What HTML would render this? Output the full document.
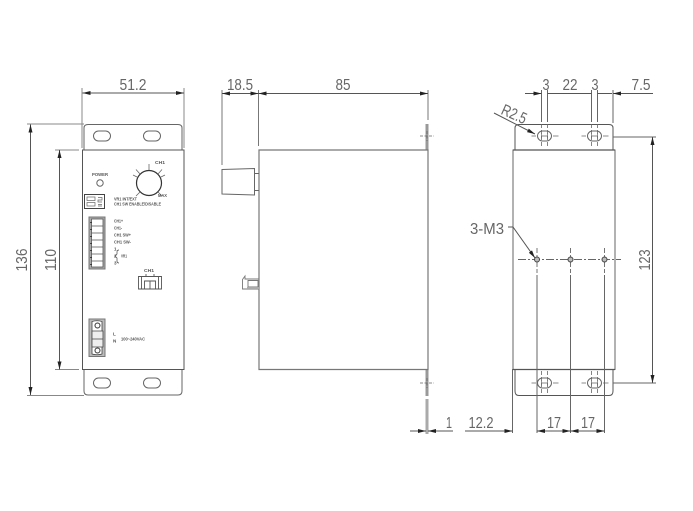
<!DOCTYPE html>
<html><head><meta charset="utf-8"><style>
html,body{margin:0;padding:0;background:#fff}
svg{display:block;filter:blur(.3px)}
text{font-family:"Liberation Sans",sans-serif;fill:#666}
.d{font-size:16px;text-anchor:middle}
.s{font-size:4.6px;fill:#555;font-weight:bold}
</style></head><body>
<svg width="693" height="511" viewBox="0 0 693 511" xmlns="http://www.w3.org/2000/svg">
<defs>
<marker id="a" viewBox="0 0 8 4" refX="8" refY="2" markerWidth="8" markerHeight="4" markerUnits="userSpaceOnUse" orient="auto-start-reverse"><path d="M0 0L8 2L0 4Z" fill="#222"/></marker>
<g id="slot"><rect x="-8.5" y="-5" width="17" height="10" rx="5" ry="5" fill="none"/></g>
<g id="rslot" fill="none">
<rect x="-7" y="-5" width="14" height="10" rx="5" ry="5"/>
<path d="M-3 0H3M-3 -2.500V2.500M3 -2.500V2.500" stroke-width=".7"/>
<path d="M-13 0H-8.500M8.500 0H14" stroke-width=".8"/>
<path d="M-3 -12V12M3 -12V12" stroke-dasharray="4 2" stroke-width=".8"/>
</g>
</defs>
<rect x="425.500" y="124" width="3" height="26" fill="#999"/>
<rect x="425.500" y="370" width="3" height="26" fill="#999"/>
<rect x="425.500" y="399" width="3" height="35" fill="#aaa"/>
<g fill="none" stroke="#666" stroke-width="1">
<!-- FRONT VIEW -->
<path d="M84 150V128Q84 124.500 88 124.500H178Q182 124.500 182 128V150"/>
<path d="M84 369.500V391Q84 395 88 395H178Q182 395 182 391V369.500"/>
<rect x="82.500" y="150" width="101.500" height="219.500" stroke="#555"/>
<use href="#slot" x="102" y="136"/><use href="#slot" x="152" y="136"/>
<use href="#slot" x="102" y="383"/><use href="#slot" x="152" y="383"/>
<path d="M82 88V148M184 88V148M27 124H84M55 150H79M55 369.500H79M27 395.500H84" stroke="#888"/>
<path d="M82.500 93H184" marker-start="url(#a)" marker-end="url(#a)" stroke="#555"/>
<path d="M30.500 124.500V395" marker-start="url(#a)" marker-end="url(#a)" stroke="#555"/>
<path d="M59.500 150V369.500" marker-start="url(#a)" marker-end="url(#a)" stroke="#555"/>
<!-- knob -->
<circle cx="149" cy="183" r="12.500" stroke="#333" stroke-width="1.200"/>
<circle cx="100" cy="183" r="3.200"/>
<path d="M149 170V164M140 174L136 169.500M158 174L162 169.500M140 192L136 196M158 192L162 196M137 177L133 175M161 177L165 175" stroke-width=".8"/>
<!-- dip -->
<rect x="84.500" y="194.500" width="20" height="14" stroke="#444"/>
<rect x="87" y="197" width="8" height="3.500" stroke-width=".7"/><rect x="87" y="202.500" width="8" height="3.500" stroke-width=".7"/>
<path d="M98 197.500H102V200H98V202H102M98 204.500H102M98 206H102" stroke-width=".7"/>
<!-- terminal -->
<rect x="89" y="217" width="16" height="52" fill="#aaa" stroke="#777"/>
<rect x="91.500" y="219" width="11.500" height="48" fill="#fff" stroke="#555" stroke-width=".8"/>
<path d="M91.500 226H103M91.500 233H103M91.500 240H103M91.500 247H103M91.500 254H103M91.500 261H103" stroke="#555" stroke-width=".8"/>
<path d="M91 222V223M91 229V230M91 236V237M91 243V244M91 250V251M91 257V258M91 264V265" stroke="#222" stroke-width="1.500"/>
<path d="M119 250Q117 250 117 252V254L115 256L117 258V261Q117 263 119 263" stroke-width=".7" stroke="#444"/>
<!-- CH1 connector -->
<path d="M138.500 276.500H161.500V289H138.500ZM141.500 276.500V289M158.500 276.500V289M144.500 281H155.500V289H144.500ZM150 281V289M146 274V276.500H154V274" stroke="#555" stroke-width=".9"/>
<!-- power -->
<rect x="89" y="319" width="16" height="37.500" fill="#bbb" stroke="#777"/>
<path d="M92 321.500Q97 320 102 321.500V354Q97 355.500 92 354Z" fill="#fff" stroke="#444" stroke-width=".8"/>
<path d="M92 331H103V347H92ZM92 339H103" stroke-width=".8" stroke="#444" fill="#eee"/>
<circle cx="97.500" cy="325.500" r="2.500" stroke="#333"/><circle cx="97.500" cy="350.500" r="2.500" stroke="#333"/>

<!-- SIDE VIEW -->
<path d="M259 150H428V369.500H259Z" stroke="#777" stroke-width="1.200"/>
<path d="M222 169.500L254.500 168.500V195L222 194Z M254.500 173.500H259M254.500 190.500H259" stroke="#666"/>
<path d="M222 90V165M258.500 90V146M428 90V120" stroke="#777"/>
<path d="M222 93.500H258.500" marker-start="url(#a)" marker-end="url(#a)" stroke="#555"/>
<path d="M258.500 93.500H428" marker-start="url(#a)" marker-end="url(#a)" stroke="#555"/>
<path d="M420 136H434M420 383H434M427 131V141M427 378V388" stroke="#666" stroke-width=".8" stroke-dasharray="3 1.500"/>
<path d="M242.500 279.500L245 276V279H259V289H242.500ZM248 280.500H258V287H248Z" stroke="#777" stroke-width=".9"/>
<path d="M247 288H259" stroke="#aaa" stroke-width="2"/>
<path d="M410 431H426" marker-end="url(#a)" stroke="#555"/>
<path d="M453 431H428" marker-end="url(#a)" stroke="#555"/>

<!-- RIGHT VIEW -->
<rect x="513" y="150" width="102" height="219.500" stroke="#666"/>
<path d="M515 150V128Q515 124.500 519 124.500H609Q613 124.500 613 128V150" stroke="#555"/>
<path d="M515 369.500V391Q515 395.500 519 395.500H609Q613 395.500 613 391V369.500" stroke="#555"/>
<path d="M513 150H615M513 369.500H615" stroke="#555" stroke-width="1.200"/>
<use href="#rslot" x="544.500" y="136"/><use href="#rslot" x="594.500" y="136"/>
<use href="#rslot" x="544.500" y="383"/><use href="#rslot" x="594.500" y="383"/>
<path d="M541.500 90V122M547.500 90V122M591.500 90V122M597.500 90V122M613 90V123" stroke="#666"/>
<path d="M525 93.500H541.500" marker-end="url(#a)" stroke="#555"/>
<path d="M547.500 93.500H591.500M597.500 93.500H612" stroke="#555"/>
<path d="M653 93.500H613" marker-end="url(#a)" stroke="#555"/>
<path d="M494 113L535 134" marker-end="url(#a)" stroke="#555"/>
<path d="M508 227H513L535 258" marker-end="url(#a)" stroke="#555"/>
<path d="M518 259.500H621" stroke="#666" stroke-width=".9" stroke-dasharray="8 2 2 2"/>
<path d="M537 248V273M570.500 248V273M604.500 248V273" stroke="#666" stroke-width=".9" stroke-dasharray="5 2"/>
<circle cx="537" cy="259.500" r="2.500" fill="#bbb" stroke="#444"/><circle cx="570.500" cy="259.500" r="2.500" fill="#bbb" stroke="#444"/><circle cx="604.500" cy="259.500" r="2.500" fill="#bbb" stroke="#444"/>
<path d="M537 275V433M570.500 275V433M604.500 275V433M512.500 369V433" stroke="#666"/>
<path d="M465 431H512.500" marker-end="url(#a)" stroke="#555"/>
<path d="M537 431H570.500" marker-start="url(#a)" marker-end="url(#a)" stroke="#555"/>
<path d="M570.500 431H604.500" marker-start="url(#a)" marker-end="url(#a)" stroke="#555"/>
<path d="M613 137H656M613 383H656" stroke="#666"/>
<path d="M652.500 137V383" marker-start="url(#a)" marker-end="url(#a)" stroke="#555"/>
</g>

<text class="d" x="133" y="90" textLength="27" lengthAdjust="spacingAndGlyphs">51.2</text>
<text class="d" transform="translate(27,260) rotate(-90)" textLength="23" lengthAdjust="spacingAndGlyphs">136</text>
<text class="d" transform="translate(56,260) rotate(-90)" textLength="22" lengthAdjust="spacingAndGlyphs">110</text>
<text class="d" x="240" y="90" textLength="26" lengthAdjust="spacingAndGlyphs">18.5</text>
<text class="d" x="343" y="90" textLength="15" lengthAdjust="spacingAndGlyphs">85</text>
<text class="d" x="449" y="428" textLength="6" lengthAdjust="spacingAndGlyphs">1</text>
<text class="d" x="481" y="428" textLength="25" lengthAdjust="spacingAndGlyphs">12.2</text>
<text class="d" x="546" y="90" textLength="7" lengthAdjust="spacingAndGlyphs">3</text>
<text class="d" x="570" y="90" textLength="15" lengthAdjust="spacingAndGlyphs">22</text>
<text class="d" x="595" y="90" textLength="7" lengthAdjust="spacingAndGlyphs">3</text>
<text class="d" x="641" y="90" textLength="19" lengthAdjust="spacingAndGlyphs">7.5</text>
<text class="d" transform="translate(512,119) rotate(24)" textLength="26" lengthAdjust="spacingAndGlyphs">R2.5</text>
<text class="d" x="487" y="234" textLength="34" lengthAdjust="spacingAndGlyphs">3-M3</text>
<text class="d" transform="translate(650,260) rotate(-90)" textLength="21" lengthAdjust="spacingAndGlyphs">123</text>
<text class="d" x="554" y="428" textLength="14" lengthAdjust="spacingAndGlyphs">17</text>
<text class="d" x="588" y="428" textLength="14" lengthAdjust="spacingAndGlyphs">17</text>

<text class="s" x="92" y="176" textLength="16" lengthAdjust="spacingAndGlyphs">POWER</text>
<text class="s" x="155" y="164" textLength="10" lengthAdjust="spacingAndGlyphs">CH1</text>
<text class="s" x="158" y="197" textLength="9" lengthAdjust="spacingAndGlyphs">MAX</text>
<text class="s" x="114" y="200.500" textLength="23" lengthAdjust="spacingAndGlyphs">VR1 INT/EXT</text>
<text class="s" x="114" y="205.500" textLength="47" lengthAdjust="spacingAndGlyphs">CH1 SW ENABLE/DISABLE</text>
<text class="s" x="114" y="222.500" textLength="9" lengthAdjust="spacingAndGlyphs">CH1+</text>
<text class="s" x="114" y="229.500" textLength="8" lengthAdjust="spacingAndGlyphs">CH1-</text>
<text class="s" x="114" y="236.500" textLength="17" lengthAdjust="spacingAndGlyphs">CH1 SW+</text>
<text class="s" x="114" y="243.500" textLength="17" lengthAdjust="spacingAndGlyphs">CH1 SW-</text>
<text class="s" x="114" y="250.500">1</text>
<text class="s" x="114" y="257.500">2</text>
<text class="s" x="114" y="264.500">3</text>
<text class="s" x="121" y="257.500" textLength="6" lengthAdjust="spacingAndGlyphs">VR1</text>
<text class="s" x="144" y="272" textLength="10" lengthAdjust="spacingAndGlyphs">CH1</text>
<text class="s" x="113" y="335.500">L</text>
<text class="s" x="113" y="342.500">N</text>
<text class="s" x="121" y="340.500" textLength="24" lengthAdjust="spacingAndGlyphs">100~240VAC</text>
</svg>
</body></html>
